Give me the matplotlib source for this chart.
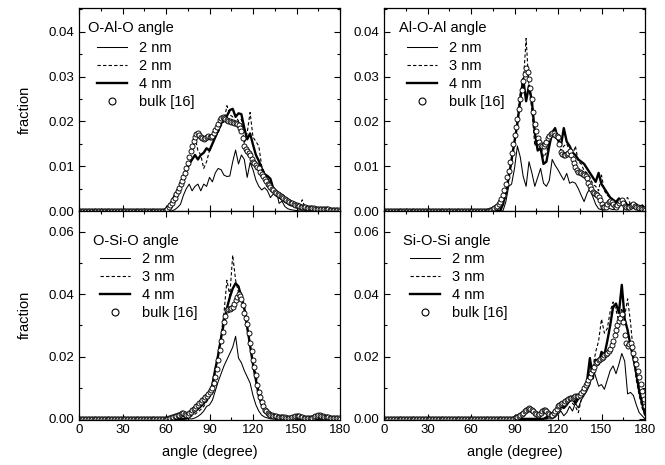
import numpy as np
import matplotlib
matplotlib.use("Agg")
import matplotlib.pyplot as plt
from matplotlib.ticker import MultipleLocator
from matplotlib.lines import Line2D

plt.rcParams['font.family'] = ['Liberation Sans', 'DejaVu Sans']

# angle grid for the simulated curves (degrees, step 2)
angles = list(range(0, 181, 2))
# angle grid for the bulk reference data (degrees, step 1)
bulk_angles = list(range(0, 181))

# ---------------- O-Al-O ----------------
oalo_title = "O-Al-O angle"
oalo_labels = ["2 nm", "2 nm", "4 nm", "bulk [16]"]
oalo_thin = [0]*33 + [0.0003, 0.0008, 0.0015, 0.0035, 0.005, 0.006, 0.0045, 0.0055, 0.006, 0.0045,
                      0.006, 0.0055, 0.0075, 0.0065, 0.0085, 0.0095, 0.0092, 0.008, 0.0077, 0.0078,
                      0.011, 0.0136, 0.0105, 0.0125, 0.0115, 0.0075, 0.0108, 0.0092, 0.0069, 0.0055,
                      0.0047, 0.0052, 0.0045, 0.003, 0.0038, 0.0047, 0.0017, 0.0022, 0.001, 0.0005,
                      0.0003, 0.0002, 0.0001, 0, 0, 0, 0, 0, 0, 0,
                      0, 0, 0, 0, 0, 0, 0, 0]
oalo_dash = [0]*31 + [0.0005, 0.0015, 0.003, 0.005, 0.0065, 0.008, 0.01, 0.0115, 0.014, 0.0165,
                      0.0135, 0.0125, 0.0095, 0.011, 0.0135, 0.015, 0.0165, 0.0175, 0.019, 0.02,
                      0.0235, 0.0215, 0.021, 0.0215, 0.02, 0.0205, 0.015, 0.0175, 0.022, 0.0165,
                      0.0155, 0.0145, 0.01, 0.0085, 0.0075, 0.006, 0.0045, 0.0035, 0.003, 0.0025,
                      0.002, 0.0015, 0.0012, 0.001, 0.0008, 0.0012, 0.0025, 0.0006, 0.0005, 0.0004,
                      0.0004, 0.0003, 0.0003, 0.0003, 0.0002, 0.0002, 0.0002, 0.0001, 0.0001, 0]
oalo_thick = [0]*30 + [0.0002, 0.001, 0.002, 0.0035, 0.0045, 0.0055, 0.0075, 0.009, 0.0105, 0.0115,
                       0.0125, 0.0115, 0.0125, 0.013, 0.014, 0.0135, 0.015, 0.0165, 0.018, 0.0195,
                       0.0205, 0.0212, 0.0225, 0.0228, 0.021, 0.0218, 0.0216, 0.0185, 0.016, 0.0173,
                       0.0148, 0.0125, 0.0112, 0.0095, 0.0082, 0.0078, 0.0072, 0.005, 0.0035, 0.003,
                       0.0028, 0.0022, 0.0018, 0.0015, 0.0012, 0.001, 0.0009, 0.0008, 0.0006, 0.0005,
                       0.0005, 0.0004, 0.0004, 0.0003, 0.0003, 0.0003, 0.0002, 0.0002, 0.0002, 0.0001, 0]
oalo_bulk = [0]*60 + [
    0.0003, 0.0005, 0.0008, 0.0013, 0.0018, 0.0024, 0.003, 0.0037, 0.0045, 0.0052,
    0.006, 0.0068, 0.0076, 0.0085, 0.0095, 0.0108, 0.012, 0.0133, 0.0145, 0.0157,
    0.0166, 0.0171, 0.0173, 0.017, 0.0166, 0.0162, 0.016, 0.0162, 0.0166, 0.0168,
    0.0166, 0.0165, 0.0168, 0.0173, 0.018, 0.0187, 0.0195, 0.0202, 0.0207, 0.0209,
    0.0208, 0.0205, 0.0203, 0.0201, 0.02, 0.0199, 0.0198, 0.0197, 0.0196, 0.0194,
    0.0192, 0.0186, 0.0178, 0.0162, 0.0145, 0.0139, 0.0135, 0.013, 0.0125, 0.0117,
    0.011, 0.0106, 0.0103, 0.0099, 0.0095, 0.0088, 0.0082, 0.0077, 0.0072, 0.0066,
    0.0061, 0.0057, 0.0053, 0.0049, 0.0046, 0.0043, 0.004, 0.0037, 0.0035, 0.0033,
    0.0031, 0.0029, 0.0027, 0.0024, 0.0022, 0.002, 0.0018, 0.0017, 0.0016, 0.0014,
    0.0013, 0.0012, 0.0011, 0.001, 0.001, 0.0009, 0.0008, 0.0007, 0.0007, 0.0006,
    0.0006, 0.0006, 0.0006, 0.0005, 0.0005, 0.0005, 0.0005, 0.0004, 0.0004, 0.0004,
    0.0004, 0.0004, 0.0004, 0.0003, 0.0003, 0.0003, 0.0003, 0.0002, 0.0002, 0.0002,
    0.0001]

# ---------------- Al-O-Al ----------------
aloal_title = "Al-O-Al angle"
aloal_labels = ["2 nm", "3 nm", "4 nm", "bulk [16]"]
aloal_thin = [0]*42 + [0.002, 0.0055, 0.006, 0.0095, 0.0145, 0.012, 0.0077, 0.0055, 0.011, 0.0085,
                       0.0055, 0.0075, 0.0095, 0.0062, 0.0055, 0.0068, 0.0115, 0.0102, 0.0092, 0.008,
                       0.0069, 0.0084, 0.0062, 0.0065, 0.0062, 0.005, 0.0035, 0.0021, 0.0039, 0.0051,
                       0.0032, 0.0015, 0.0005, 0.0003, 0.0005, 0.0008, 0.0005, 0.0003, 0.0005, 0.001,
                       0.0015, 0.0008, 0.0005, 0.001, 0.0012, 0.0006, 0.0003, 0.0003, 0]
aloal_dash = [0]*41 + [0.001, 0.0035, 0.007, 0.011, 0.0155, 0.0205, 0.0265, 0.028, 0.0385, 0.0275,
                       0.0225, 0.0145, 0.016, 0.015, 0.012, 0.013, 0.0155, 0.0165, 0.017, 0.0155,
                       0.0135, 0.0145, 0.015, 0.0135, 0.0125, 0.0145, 0.011, 0.0105, 0.009, 0.0085,
                       0.0075, 0.006, 0.0055, 0.0045, 0.008, 0.0045, 0.0035, 0.003, 0.002, 0.0015,
                       0.002, 0.0015, 0.0025, 0.003, 0.0015, 0.0015, 0.001, 0.001, 0.0015, 0.0005]
aloal_thick = [0]*41 + [0.0015, 0.004, 0.0075, 0.0115, 0.0155, 0.0195, 0.025, 0.0295, 0.0245, 0.028,
                        0.0245, 0.0175, 0.0135, 0.014, 0.0105, 0.011, 0.0145, 0.0175, 0.0185, 0.016,
                        0.0145, 0.0185, 0.0155, 0.0145, 0.013, 0.0125, 0.0115, 0.011, 0.0105, 0.0095,
                        0.0085, 0.0075, 0.0065, 0.0085, 0.006, 0.005, 0.004, 0.003, 0.0025, 0.002,
                        0.0028, 0.0018, 0.0022, 0.0012, 0.0015, 0.001, 0.0015, 0.0008, 0.0012, 0.0005]
aloal_bulk = [0]*70 + [
    0, 0, 0, 0.0002, 0.0003, 0.0004, 0.0006, 0.0008, 0.0012, 0.0016,
    0.002, 0.0027, 0.0035, 0.0047, 0.006, 0.0075, 0.009, 0.011, 0.013, 0.015,
    0.017, 0.0188, 0.0205, 0.0228, 0.025, 0.027, 0.029, 0.0305, 0.0318, 0.031,
    0.0295, 0.0275, 0.025, 0.0222, 0.0195, 0.0178, 0.0162, 0.0155, 0.0148, 0.0146,
    0.0145, 0.015, 0.0155, 0.0162, 0.0168, 0.0172, 0.0175, 0.0173, 0.017, 0.0168,
    0.0165, 0.015, 0.0132, 0.0128, 0.0125, 0.0126, 0.0128, 0.013, 0.0133, 0.0125,
    0.0115, 0.0106, 0.0098, 0.0092, 0.0088, 0.0086, 0.0085, 0.0083, 0.008, 0.0077,
    0.0073, 0.0063, 0.0055, 0.0048, 0.0042, 0.004, 0.0038, 0.0035, 0.0032, 0.0024,
    0.0015, 0.001, 0.0008, 0.001, 0.0015, 0.002, 0.0023, 0.002, 0.0015, 0.0012,
    0.001, 0.0014, 0.0018, 0.0022, 0.0024, 0.0018, 0.0012, 0.001, 0.0008, 0.001,
    0.0012, 0.0014, 0.0015, 0.0012, 0.001, 0.0008, 0.0007, 0.0006, 0.0005, 0.0004,
    0.0003]

# ---------------- O-Si-O ----------------
osio_title = "O-Si-O angle"
osio_labels = ["2 nm", "3 nm", "4 nm", "bulk [16]"]
osio_thin = [0]*40 + [0.0003, 0.0008, 0.0015, 0.0025, 0.004, 0.0045, 0.006, 0.009, 0.012, 0.0145,
                      0.017, 0.019, 0.021, 0.023, 0.0265, 0.0195, 0.018, 0.0155, 0.0135, 0.0115,
                      0.0075, 0.0045, 0.0025, 0.0012, 0.0006, 0.0003, 0, 0, 0, 0,
                      0, 0, 0, 0, 0, 0, 0, 0, 0, 0,
                      0, 0, 0, 0, 0, 0, 0, 0, 0, 0, 0]
osio_dash = [0]*38 + [0.0005, 0.001, 0.0015, 0.0022, 0.003, 0.004, 0.0055, 0.007, 0.0095, 0.015,
                      0.021, 0.027, 0.034, 0.0445, 0.0395, 0.0525, 0.0445, 0.0405, 0.0385, 0.0345,
                      0.029, 0.0235, 0.0185, 0.0145, 0.009, 0.005, 0.003, 0.0018, 0.0012, 0.0008,
                      0.0006, 0.0005, 0.0004, 0.0003, 0.0003, 0.0002, 0.0002, 0.0002, 0.0001, 0.0001,
                      0.0001, 0.0001, 0.0001, 0, 0, 0, 0, 0, 0, 0,
                      0, 0, 0]
osio_thick = [0]*37 + [0.0003, 0.001, 0.0018, 0.0025, 0.0032, 0.004, 0.005, 0.006, 0.0075, 0.011,
                       0.016, 0.0205, 0.026, 0.031, 0.0355, 0.039, 0.0418, 0.0435, 0.0425, 0.039,
                       0.0355, 0.0295, 0.0235, 0.0175, 0.0125, 0.0075, 0.0045, 0.0025, 0.0015, 0.001,
                       0.0008, 0.0006, 0.0005, 0.0004, 0.0003, 0.0003, 0.0002, 0.0002, 0.0003, 0.0002,
                       0.0001, 0.0001, 0.0001, 0.0001, 0.0001, 0.0001, 0.0001, 0.0001, 0.0001, 0.0001,
                       0.0001, 0.0001, 0.0001, 0]
osio_bulk = [0]*60 + [
    0, 0.0001, 0.0002, 0.0003, 0.0005, 0.0006, 0.0008, 0.001, 0.0012, 0.0014,
    0.0016, 0.0018, 0.002, 0.0016, 0.0013, 0.0014, 0.0018, 0.0023, 0.0028, 0.0031,
    0.0035, 0.004, 0.0045, 0.005, 0.0055, 0.006, 0.0065, 0.007, 0.0075, 0.008,
    0.0085, 0.0092, 0.01, 0.0115, 0.0135, 0.016, 0.019, 0.022, 0.025, 0.028,
    0.031, 0.033, 0.035, 0.0352, 0.0352, 0.0355, 0.036, 0.037, 0.038, 0.039,
    0.04, 0.0395, 0.0385, 0.0365, 0.034, 0.0325, 0.0305, 0.0275, 0.0245, 0.0218,
    0.019, 0.0165, 0.014, 0.011, 0.0085, 0.007, 0.0055, 0.004, 0.003, 0.0025,
    0.002, 0.0016, 0.0013, 0.0011, 0.001, 0.0009, 0.0008, 0.0007, 0.0007, 0.0006,
    0.0005, 0.0005, 0.0005, 0.0004, 0.0004, 0.0004, 0.0004, 0.0005, 0.0007, 0.0008,
    0.0009, 0.0009, 0.0008, 0.0006, 0.0005, 0.0004, 0.0003, 0.0002, 0.0002, 0.0002,
    0.0003, 0.0004, 0.0006, 0.0008, 0.001, 0.0012, 0.0012, 0.001, 0.0008, 0.0006,
    0.0005, 0.0005, 0.0005, 0.0004, 0.0004, 0.0003, 0.0003, 0.0002, 0.0002, 0.0002,
    0.0001]

# ---------------- Si-O-Si ----------------
siosi_title = "Si-O-Si angle"
siosi_labels = ["2 nm", "3 nm", "4 nm", "bulk [16]"]
siosi_thin = [0]*59 + [0.0005, 0.0015, 0.0025, 0.001, 0.002, 0.004, 0.0025, 0.005, 0.0035, 0.006,
                       0.0075, 0.009, 0.011, 0.0165, 0.0135, 0.0105, 0.011, 0.0095, 0.0125, 0.0155,
                       0.017, 0.0145, 0.0175, 0.021, 0.0185, 0.008, 0.0085, 0.0075, 0.0045, 0.002,
                       0.001, 0]
siosi_dash = [0]*57 + [0.0005, 0.001, 0.0015, 0.002, 0.003, 0.004, 0.005, 0.0055, 0.005, 0.004,
                       0.002, 0.006, 0.0105, 0.011, 0.0185, 0.0165, 0.0215, 0.025, 0.032, 0.0275,
                       0.029, 0.0345, 0.0375, 0.035, 0.031, 0.0355, 0.033, 0.0385, 0.031, 0.021,
                       0.0125, 0.0075, 0.0035, 0.001]
siosi_thick = [0]*56 + [0.0005, 0.001, 0.0015, 0.002, 0.003, 0.004, 0.0035, 0.0045, 0.006, 0.0065,
                        0.005, 0.0065, 0.008, 0.0095, 0.012, 0.0195, 0.013, 0.019, 0.0175, 0.0215,
                        0.0205, 0.025, 0.03, 0.036, 0.037, 0.034, 0.043, 0.032, 0.0285, 0.0235,
                        0.0195, 0.0145, 0.009, 0.005, 0.0015]
siosi_bulk = [0]*90 + [
    0.0003, 0.0005, 0.0007, 0.001, 0.0012, 0.0016, 0.002, 0.0025, 0.003, 0.0033,
    0.0035, 0.0033, 0.003, 0.0024, 0.0018, 0.0015, 0.0012, 0.0015, 0.002, 0.0025,
    0.003, 0.0028, 0.0025, 0.002, 0.0015, 0.0013, 0.0012, 0.0018, 0.0025, 0.0032,
    0.004, 0.0044, 0.0048, 0.005, 0.0052, 0.0056, 0.006, 0.0063, 0.0066, 0.0067,
    0.0068, 0.007, 0.0072, 0.0073, 0.0075, 0.0078, 0.0082, 0.009, 0.01, 0.0108,
    0.0115, 0.0125, 0.0135, 0.0147, 0.0158, 0.0168, 0.0178, 0.0184, 0.019, 0.0193,
    0.0195, 0.02, 0.0205, 0.0208, 0.021, 0.0218, 0.0225, 0.0238, 0.025, 0.0268,
    0.0285, 0.03, 0.0315, 0.0325, 0.0335, 0.031, 0.027, 0.0245, 0.0235, 0.024,
    0.0245, 0.023, 0.021, 0.0192, 0.0175, 0.0155, 0.0135, 0.0112, 0.009, 0.0065,
    0.004]

panels = [
    (oalo_title, oalo_labels, oalo_thin, oalo_dash, oalo_thick, oalo_bulk),
    (aloal_title, aloal_labels, aloal_thin, aloal_dash, aloal_thick, aloal_bulk),
    (osio_title, osio_labels, osio_thin, osio_dash, osio_thick, osio_bulk),
    (siosi_title, siosi_labels, siosi_thin, siosi_dash, siosi_thick, siosi_bulk),
]

xticks = [0, 30, 60, 90, 120, 150, 180]
top_yticks = [0.00, 0.01, 0.02, 0.03, 0.04]
bot_yticks = [0.00, 0.02, 0.04, 0.06]

fig = plt.figure(figsize=(6.65, 4.65), dpi=100)
W, H = 665, 465
col_x = [79, 384]
col_w = 261
rows = [(8, 211), (211, 419.5)]

title_pos = [(0.036, 0.882), (0.057, 0.882), (0.054, 0.837), (0.072, 0.837)]
leg_pos = [(0.069, 0.836), (0.088, 0.836), (0.082, 0.803), (0.100, 0.803)]

FS = 10.5
TFS = 9.5
LS = dict(thin=dict(color='black', lw=0.75),
          dash=dict(color='black', lw=0.8, ls=(0, (3, 2))),
          thick=dict(color='black', lw=1.7))
for i, (title, labels, thin, dash, thick, bulk) in enumerate(panels):
    r, c = divmod(i, 2)
    top, bot = rows[r]
    ax = fig.add_axes([col_x[c] / W, 1 - bot / H, col_w / W, (bot - top) / H])
    a = np.array(angles)
    ax.plot(a, thin, **LS['thin'])
    ax.plot(a, dash, **LS['dash'])
    ax.plot(a, thick, **LS['thick'])
    ax.plot(bulk_angles, bulk, ls='none', marker='o', ms=3.6, mfc='white', mec='black', mew=0.65)
    ax.set_xlim(0, 180)
    if r == 0:
        ax.set_ylim(0, 0.0453)
        ax.set_yticks(top_yticks)
        ax.yaxis.set_minor_locator(MultipleLocator(0.005))
    else:
        ax.set_ylim(-0.0002, 0.0667)
        ax.set_yticks(bot_yticks)
        ax.yaxis.set_minor_locator(MultipleLocator(0.01))
    ax.set_yticklabels([f"{v:.2f}" for v in ax.get_yticks()])
    ax.set_xticks(xticks)
    ax.xaxis.set_minor_locator(MultipleLocator(15))
    ax.tick_params(which='both', direction='in', top=True, right=True, labelsize=TFS, width=0.8)
    ax.tick_params(which='major', length=4)
    ax.tick_params(which='minor', length=2.2)
    if r == 0:
        ax.tick_params(labelbottom=False)
    else:
        ax.set_xlabel("angle (degree)", fontsize=FS, labelpad=6)
    if c == 0:
        ax.set_ylabel("fraction", fontsize=FS, labelpad=12)
    for s in ax.spines.values():
        s.set_linewidth(0.9)
    ax.text(title_pos[i][0], title_pos[i][1], title, transform=ax.transAxes, fontsize=FS,
            ha='left', va='baseline')
    handles = [
        Line2D([], [], **LS['thin']),
        Line2D([], [], **LS['dash']),
        Line2D([], [], **LS['thick']),
        Line2D([], [], ls='none', marker='o', ms=5, mfc='white', mec='black', mew=0.8),
    ]
    ax.legend(handles, labels, loc='upper left', bbox_to_anchor=leg_pos[i], frameon=False,
              fontsize=FS, handlelength=2.05, handletextpad=0.8, labelspacing=0.27,
              borderpad=0, borderaxespad=0)

fig.savefig("out.png", dpi=100)
